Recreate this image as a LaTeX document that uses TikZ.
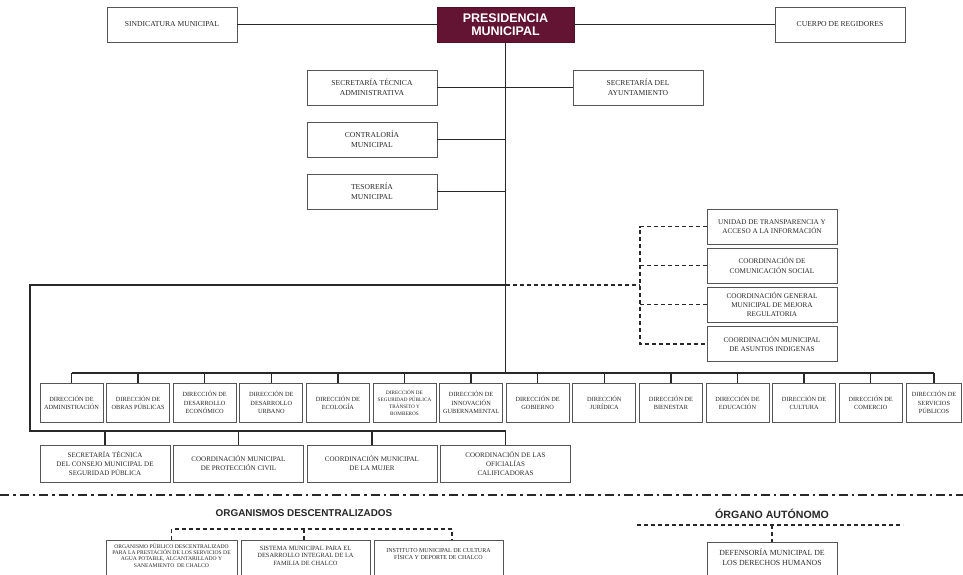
\documentclass[tikz,border=0pt]{standalone}
\usepackage{fontspec}
\setmainfont{Liberation Serif}
\newfontfamily\hsans{Liberation Sans}
\definecolor{guinda}{RGB}{98,20,50}
\definecolor{linec}{RGB}{40,40,40}
\definecolor{boxc}{RGB}{85,85,85}
\definecolor{txtc}{RGB}{40,40,40}
\begin{document}
\begin{tikzpicture}[x=1pt,y=-1pt,
  bx/.style={draw=boxc, line width=0.9pt, fill=white, align=center, inner sep=1pt, text=txtc},
  tbox/.style={bx, minimum width=130pt, minimum height=35pt, font=\fontsize{7.6}{9.6}\selectfont},
  cbox/.style={bx, minimum width=130pt, minimum height=35pt, font=\fontsize{7.2}{9.3}\selectfont},
  dbox/.style={bx, minimum width=63pt, minimum height=39pt, font=\fontsize{6.3}{8.2}\selectfont},
  sbox/.style={bx, minimum width=63pt, minimum height=39pt, font=\fontsize{5.2}{7}\selectfont},
  bbox/.style={bx, minimum width=130pt, minimum height=37pt, font=\fontsize{7}{9}\selectfont},
  obox/.style={bx, anchor=north, inner sep=3pt, text depth=40pt},
  presbox/.style={fill=guinda, draw=guinda!80!black, minimum width=137pt, minimum height=35pt, align=center, text=white, inner sep=1pt, font=\hsans\bfseries\fontsize{12.5}{13.5}\selectfont},
  ttl/.style={font=\hsans\bfseries, text=black!85, inner sep=0pt},
  ln/.style={draw=linec, line width=1.4pt},
  dsh/.style={draw=linec, line width=1.1pt, dash pattern=on 4pt off 3pt},
  dd/.style={draw=linec, line width=1.5pt, dash pattern=on 9pt off 4pt on 2.5pt off 4pt}
]
\useasboundingbox (0,0) rectangle (963,575);
\clip (0,0) rectangle (963,575);
\fill[white] (0,0) rectangle (963,575);

% ---- top level
\node[tbox] (sind) at (172,24.5) {SINDICATURA MUNICIPAL};
\node[presbox] (pres) at (505.5,24.5) {PRESIDENCIA\\MUNICIPAL};
\node[tbox] (cuer) at (840,24.5) {CUERPO DE REGIDORES};

% ---- secretarias
\node[tbox] (sta) at (372,87.5) {SECRETARÍA TÉCNICA\\ADMINISTRATIVA};
\node[tbox] (sayu) at (638,87.5) {SECRETARÍA DEL\\AYUNTAMIENTO};
\node[tbox] (contra) at (372,139.5) {CONTRALORÍA\\MUNICIPAL};
\node[tbox] (teso) at (372,191.5) {TESORERÍA\\MUNICIPAL};

% ---- coordinaciones (right, dashed)
\node[cbox] (ut) at (772,226.5) {UNIDAD DE TRANSPARENCIA Y\\ACCESO A LA INFORMACIÓN};
\node[cbox] (ccs) at (772,265.5) {COORDINACIÓN DE\\COMUNICACIÓN SOCIAL};
\node[cbox] (cgm) at (772,304.5) {COORDINACIÓN GENERAL\\MUNICIPAL DE MEJORA\\REGULATORIA};
\node[cbox] (cma) at (772,344) {COORDINACIÓN MUNICIPAL\\DE ASUNTOS INDIGENAS};

% ---- direcciones
\node[dbox] (d1) at (71.5,402.5) {DIRECCIÓN DE\\ADMINISTRACIÓN};
\node[dbox] (d2) at (138.1,402.5) {DIRECCIÓN DE\\OBRAS PÚBLICAS};
\node[dbox] (d3) at (204.7,402.5) {DIRECCIÓN DE\\DESARROLLO\\ECONÓMICO};
\node[dbox] (d4) at (271.3,402.5) {DIRECCIÓN DE\\DESARROLLO\\URBANO};
\node[dbox] (d5) at (337.9,402.5) {DIRECCIÓN DE\\ECOLOGÍA};
\node[sbox] (d6) at (404.5,402.5) {DIRECCIÓN DE\\SEGURIDAD PÚBLICA\\TRÁNSITO Y\\BOMBEROS};
\node[dbox] (d7) at (471.1,402.5) {DIRECCIÓN DE\\INNOVACIÓN\\GUBERNAMENTAL};
\node[dbox] (d8) at (537.7,402.5) {DIRECCIÓN DE\\GOBIERNO};
\node[dbox] (d9) at (604.3,402.5) {DIRECCIÓN\\JURÍDICA};
\node[dbox] (d10) at (670.9,402.5) {DIRECCIÓN DE\\BIENESTAR};
\node[dbox] (d11) at (737.5,402.5) {DIRECCIÓN DE\\EDUCACIÓN};
\node[dbox] (d12) at (804.1,402.5) {DIRECCIÓN DE\\CULTURA};
\node[dbox] (d13) at (870.7,402.5) {DIRECCIÓN DE\\COMERCIO};
\node[dbox, minimum width=55pt] (d14) at (934,402.5) {DIRECCIÓN DE\\SERVICIOS\\PÚBLICOS};

% ---- bottom row
\node[bbox] (b1) at (105,463.5) {SECRETARÍA TÉCNICA\\DEL CONSEJO MUNICIPAL DE\\SEGURIDAD PÚBLICA};
\node[bbox] (b2) at (238.5,463.5) {COORDINACIÓN MUNICIPAL\\DE PROTECCIÓN CIVIL};
\node[bbox] (b3) at (372,463.5) {COORDINACIÓN MUNICIPAL\\DE LA MUJER};
\node[bbox] (b4) at (505.5,463.5) {COORDINACIÓN DE LAS\\OFICIALÍAS\\CALIFICADORAS};

% ---- connectors top
\coordinate (j285) at (505.5,285);
\coordinate (bus) at (505.5,373);
\coordinate (dv) at (640,285);
\coordinate (L1) at (30,285);
\coordinate (L2) at (30,431);
\coordinate (R2) at (505.5,431);

\draw[ln] (sind) -- (pres);
\draw[ln] (pres) -- (cuer);
\draw[ln] (pres.south) -- (bus);
\draw[ln] (sta.east) -- (sayu.west);
\draw[ln] (contra.east) -- (contra.east -| pres.south);
\draw[ln] (teso.east) -- (teso.east -| pres.south);

% dashed to coordinaciones
\draw[dsh] (j285) -- (dv);
\draw[dsh] (ut.west) -- (ut.west -| dv) -- (cma.west -| dv) -- (cma.west);
\draw[dsh] (ccs.west) -- (ccs.west -| dv);
\draw[dsh] (cgm.west) -- (cgm.west -| dv);

% bus to direcciones
\draw[ln] (d1.north |- bus) -- (d14.north |- bus);
\foreach \d in {d1,d2,d3,d4,d5,d6,d7,d8,d9,d10,d11,d12,d13,d14}
  \draw[ln] (\d.north |- bus) -- (\d.north);

% left loop to bottom row
\draw[ln] (j285) -- (L1) -- (L2) -- (R2);
\foreach \b in {b1,b2,b3,b4}
  \draw[ln] (\b.north |- L2) -- (\b.north);

% ---- separator
\coordinate (sl) at (0,495);
\coordinate (sr) at (963,495);
\draw[dd] (sl) -- (sr);

% ---- organismos descentralizados
\node[ttl, font=\hsans\bfseries\fontsize{9.9}{11}\selectfont] (tod) at (304,513) {ORGANISMOS DESCENTRALIZADOS};
\node[obox, minimum width=131pt, font=\fontsize{5.6}{6.3}\selectfont] (o1) at (171.5,540) {ORGANISMO PÚBLICO DESCENTRALIZADO\\PARA LA PRESTACIÓN DE LOS SERVICIOS DE\\AGUA POTABLE, ALCANTARILLADO Y\\SANEAMIENTO \ DE CHALCO};
\node[obox, minimum width=129pt, font=\fontsize{6.4}{7.2}\selectfont, inner sep=6pt] (o2) at (305.5,540) {SISTEMA MUNICIPAL PARA EL\\DESARROLLO INTEGRAL DE LA\\FAMILIA DE CHALCO};
\node[obox, minimum width=129pt, font=\fontsize{6}{7}\selectfont, inner sep=8pt] (o3) at (438.5,540) {INSTITUTO MUNICIPAL DE CULTURA\\FÍSICA Y DEPORTE DE CHALCO};

\coordinate (ob) at (304,529);
\coordinate (o3c) at (452,529);
\draw[dsh] (o1.north) -- (o1.north |- ob) -- (o3c) -- (o3c |- o3.north);
\draw[dsh] (ob) -- (ob |- o2.north);

% ---- organo autonomo
\node[ttl, font=\hsans\bfseries\fontsize{10.6}{12}\selectfont] (toa) at (772,514) {ÓRGANO AUTÓNOMO};
\node[obox, minimum width=130pt, font=\fontsize{7.8}{10}\selectfont, inner sep=6pt] (def) at (772,542) {DEFENSORÍA MUNICIPAL DE\\LOS DERECHOS HUMANOS};
\coordinate (ag1) at (637,525);
\coordinate (ag2) at (903,525);
\draw[dsh] (ag1) -- (ag2);
\draw[dsh] (def.north |- ag1) -- (def.north);
\end{tikzpicture}
\end{document}
